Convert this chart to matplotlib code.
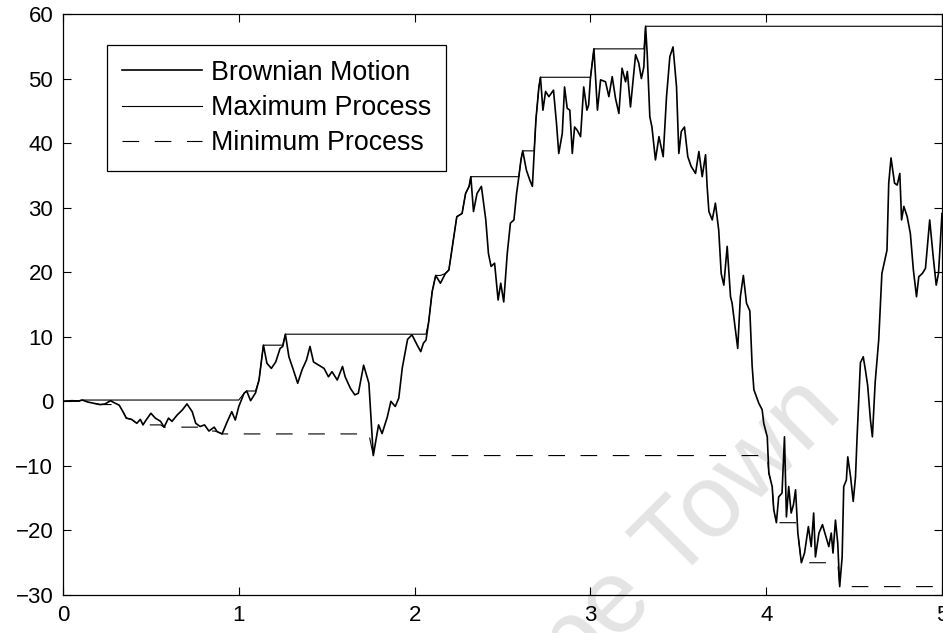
import numpy as np
import matplotlib
matplotlib.use('Agg')
import matplotlib.pyplot as plt

FIG_W, FIG_H, DPI = 9.43, 6.33, 100

# sampled Brownian path: time and value
t = [
    0.0, 0.05, 0.09, 0.11, 0.14, 0.175, 0.21, 0.24, 0.27, 0.29,
    0.32, 0.345, 0.36, 0.39, 0.42, 0.44, 0.455, 0.47, 0.50, 0.525,
    0.555, 0.575, 0.60, 0.62, 0.65, 0.68, 0.705, 0.735, 0.755, 0.78,
    0.805, 0.83, 0.86, 0.877, 0.905, 0.935, 0.96, 0.98, 1.0, 1.03,
    1.045, 1.067, 1.095, 1.115, 1.14, 1.16, 1.185, 1.21, 1.235, 1.25,
    1.265, 1.285, 1.31, 1.335, 1.36, 1.385, 1.405, 1.425, 1.455, 1.485,
    1.51, 1.53, 1.56, 1.59, 1.605, 1.635, 1.66, 1.68, 1.71, 1.74,
    1.765, 1.795, 1.815, 1.845, 1.865, 1.89, 1.91, 1.93, 1.96, 1.985,
    2.015, 2.035, 2.05, 2.065, 2.08, 2.10, 2.12, 2.147, 2.175, 2.195,
    2.215, 2.24, 2.27, 2.29, 2.31, 2.32, 2.335, 2.355, 2.38, 2.405,
    2.42, 2.435, 2.455, 2.475, 2.49, 2.507, 2.527, 2.545, 2.565, 2.58,
    2.593, 2.605, 2.615, 2.636, 2.655, 2.67, 2.68, 2.69, 2.707, 2.716,
    2.73, 2.745, 2.764, 2.79, 2.807, 2.82, 2.84, 2.853, 2.868, 2.883,
    2.897, 2.91, 2.925, 2.944, 2.962, 2.98, 2.99, 3.0, 3.02, 3.04,
    3.058, 3.086, 3.105, 3.124, 3.143, 3.162, 3.18, 3.2, 3.21, 3.228,
    3.257, 3.275, 3.29, 3.304, 3.314, 3.323, 3.338, 3.35, 3.37, 3.39,
    3.414, 3.433, 3.452, 3.47, 3.49, 3.503, 3.517, 3.535, 3.554, 3.573,
    3.598, 3.617, 3.636, 3.655, 3.664, 3.674, 3.693, 3.711, 3.73, 3.744,
    3.759, 3.778, 3.797, 3.806, 3.825, 3.838, 3.853, 3.87, 3.888, 3.907,
    3.92, 3.93, 3.958, 3.977, 3.986, 4.006, 4.015, 4.034, 4.043, 4.058,
    4.071, 4.09, 4.104, 4.115, 4.128, 4.142, 4.155, 4.167, 4.18, 4.2,
    4.218, 4.24, 4.256, 4.27, 4.28, 4.3, 4.32, 4.34, 4.356, 4.37,
    4.38, 4.394, 4.407, 4.418, 4.432, 4.441, 4.456, 4.464, 4.48, 4.495,
    4.508, 4.517, 4.536, 4.552, 4.564, 4.577, 4.593, 4.604, 4.62, 4.64,
    4.658, 4.687, 4.697, 4.71, 4.73, 4.745, 4.76, 4.77, 4.783, 4.802,
    4.82, 4.837, 4.855, 4.868, 4.888, 4.906, 4.93, 4.95, 4.967, 4.98,
    5.0,
]
w = [
    0.0, 0.1, 0.05, 0.2, -0.1, -0.3, -0.5, -0.4, 0.1, -0.2,
    -0.6, -1.8, -2.6, -2.8, -3.4, -2.8, -3.65, -3.0, -1.85, -2.6,
    -3.1, -4.0, -2.6, -3.1, -2.1, -1.3, -0.4, -1.6, -3.4, -3.9,
    -3.65, -4.6, -4.0, -4.7, -5.05, -3.1, -1.6, -2.9, -0.8, 1.25,
    1.6, 0.1, 1.3, 3.3, 8.7, 5.9, 5.1, 6.1, 8.2, 8.5,
    10.4, 6.9, 4.9, 2.8, 4.9, 6.4, 8.5, 6.1, 5.6, 5.1,
    3.8, 4.6, 3.3, 5.4, 3.8, 2.0, 1.0, 1.25, 5.6, 2.8,
    -8.4, -3.65, -5.0, -2.4, 0.0, -0.8, 0.5, 5.2, 9.6, 10.3,
    8.7, 7.7, 9.0, 9.5, 12.3, 17.0, 19.5, 18.3, 19.8, 20.35,
    24.0, 28.6, 29.1, 32.2, 33.3, 34.8, 29.4, 32.2, 33.3, 28.1,
    22.9, 20.9, 21.4, 15.7, 18.3, 15.4, 22.9, 27.6, 28.1, 32.2,
    34.8, 37.4, 38.8, 35.8, 34.3, 33.3, 38.4, 43.6, 48.7, 50.2,
    45.1, 48.0, 47.2, 48.2, 43.1, 38.4, 41.5, 48.7, 45.4, 45.1,
    38.4, 42.5, 42.0, 41.0, 48.7, 45.1, 45.9, 50.0, 54.6, 45.1,
    49.8, 49.5, 47.2, 50.3, 46.9, 44.6, 51.6, 49.5, 51.1, 45.6,
    53.7, 52.4, 50.0, 51.8, 58.1, 53.9, 44.1, 42.5, 37.4, 41.0,
    37.9, 47.2, 53.4, 54.9, 48.7, 38.4, 41.8, 42.5, 37.9, 36.4,
    35.3, 38.7, 34.8, 38.2, 33.3, 29.4, 28.1, 30.7, 26.5, 19.8,
    18.0, 24.0, 16.2, 15.2, 11.1, 8.2, 16.2, 19.5, 15.2, 14.0,
    5.5, 1.8, -0.3, -1.3, -3.4, -5.5, -11.1, -13.2, -16.8, -18.8,
    -14.8, -14.2, -5.5, -17.9, -13.2, -17.3, -16.0, -13.7, -20.4, -25.0,
    -23.5, -19.4, -22.5, -17.3, -24.1, -20.4, -19.1, -21.0, -22.5, -20.4,
    -23.5, -18.4, -22.0, -28.7, -24.1, -13.2, -12.2, -8.6, -11.7, -15.5,
    -11.7, -5.5, 6.0, 6.9, 4.9, 2.5, -2.9, -5.5, 3.0, 9.5,
    19.8, 23.4, 33.8, 37.7, 33.8, 33.5, 35.3, 28.1, 30.2, 28.6,
    26.0, 20.4, 16.2, 19.3, 19.8, 20.6, 28.1, 22.4, 18.0, 19.8,
    29.1,
]

x_ticks = [0, 1, 2, 3, 4, 5]
y_ticks = [-30, -20, -10, 0, 10, 20, 30, 40, 50, 60]
labels = ['Brownian Motion', 'Maximum Process', 'Minimum Process']

t = np.array(t)
w = np.array(w)
w_max = np.maximum.accumulate(w)
w_min = np.minimum.accumulate(w)

plt.rcParams['font.family'] = ['Liberation Sans', 'DejaVu Sans']

fig = plt.figure(figsize=(FIG_W, FIG_H), dpi=DPI)
ax = fig.add_axes([63 / 943, 1 - 595 / 633, 879 / 943, 581 / 633])

# faint watermark behind the lines
ax.text(0.895, 0.345, 'University of Cape Town', transform=fig.transFigure,
        fontsize=74, color='#e4e4e4', rotation=45, rotation_mode='anchor',
        ha='right', va='baseline', zorder=0.5, clip_on=False)

ax.plot(t, w, color='black', lw=1.2, label=labels[0], zorder=3)
ax.plot(t, w_max, color='black', lw=0.8, label=labels[1], zorder=2)
ax.plot(t, w_min, color='black', lw=0.8, linestyle=(0, (15, 14)),
        label=labels[2], zorder=2)

ax.set_xlim(0, 5)
ax.set_ylim(-30, 60)
ax.set_xticks(x_ticks)
ax.set_yticks(y_ticks)
ax.tick_params(direction='in', length=6, width=0.8, labelsize=16,
               top=True, right=True, pad=7)
for sp in ax.spines.values():
    sp.set_linewidth(0.9)

leg = ax.legend(loc='upper left', bbox_to_anchor=(0.05, 0.947),
                borderaxespad=0, fontsize=19.3, frameon=True, fancybox=False,
                edgecolor='black', framealpha=1, handlelength=3.0,
                handletextpad=0.33, labelspacing=0.34, borderpad=0.56)
leg.get_frame().set_linewidth(0.9)

fig.savefig('out.png', dpi=DPI)
